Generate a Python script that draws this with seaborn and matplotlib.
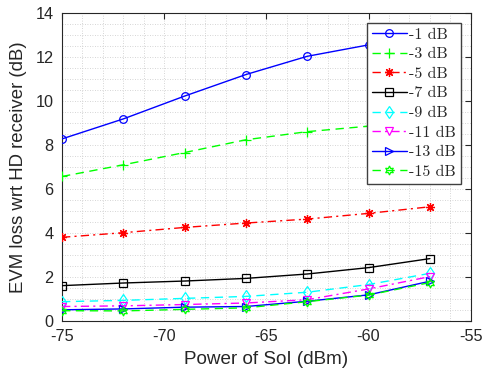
import numpy as np
import pandas as pd
import matplotlib
matplotlib.use("Agg")
import matplotlib.pyplot as plt
from matplotlib.ticker import MultipleLocator
import seaborn as sns

# Power of the signal of interest (dBm)
power_dbm = [-75, -72, -69, -66, -63, -60, -57]

# EVM loss w.r.t. HD receiver (dB), one series per interference level
evm_m1 = [8.27, 9.18, 10.22, 11.2, 12.03, 12.55, 12.95]
evm_m3 = [6.56, 7.09, 7.65, 8.23, 8.6, 8.85, 9.0]
evm_m5 = [3.79, 4.0, 4.24, 4.44, 4.62, 4.88, 5.18]
evm_m7 = [1.59, 1.71, 1.8, 1.92, 2.12, 2.41, 2.82]
evm_m9 = [0.86, 0.92, 1.01, 1.1, 1.29, 1.64, 2.15]
evm_m11 = [0.64, 0.67, 0.73, 0.8, 0.95, 1.44, 2.0]
evm_m13 = [0.49, 0.53, 0.61, 0.64, 0.88, 1.17, 1.79]
evm_m15 = [0.45, 0.44, 0.51, 0.58, 0.86, 1.16, 1.73]

labels = ["-1 dB", "-3 dB", "-5 dB", "-7 dB", "-9 dB", "-11 dB", "-13 dB", "-15 dB"]
series = [evm_m1, evm_m3, evm_m5, evm_m7, evm_m9, evm_m11, evm_m13, evm_m15]

colors = [(0, 0, 1), (0, 1, 0), (1, 0, 0), (0, 0, 0),
          (0, 1, 1), (1, 0, 1), (0, 0, 1), (0, 1, 0)]
# circle, plus, asterisk, square, diamond, down-triangle, right-triangle, hexagram
markers = ["o", "+", (8, 2, 0), "s", "d", "v", ">", (6, 1, 0)]
marker_sizes = [5.5, 6.5, 6.5, 5.5, 6, 6, 6, 6.5]
linestyles = ["-", (0, (6, 4)), (0, (6, 3, 1.5, 3)), "-",
              (0, (6, 4)), (0, (6, 3, 1.5, 3)), "-", (0, (6, 4))]

df = pd.DataFrame({
    "power": np.tile(power_dbm, len(series)),
    "evm": np.concatenate(series),
    "level": np.repeat(labels, len(power_dbm)),
})

sns.set_style("white")
plt.rcParams["font.family"] = ["Liberation Sans", "DejaVu Sans"]
plt.rcParams["axes.unicode_minus"] = False

fig = plt.figure(figsize=(4.86, 3.83), dpi=100)
ax = fig.add_axes([0.1276, 0.1630, 0.8410, 0.8030])

for lab, col, mk, ms, ls in zip(labels, colors, markers, marker_sizes, linestyles):
    sub = df[df["level"] == lab]
    sns.lineplot(
        data=sub, x="power", y="evm", ax=ax,
        color=col, linestyle=ls, linewidth=1.0,
        marker=mk, markersize=ms,
        markerfacecolor="none", markeredgecolor=col, markeredgewidth=0.9,
        label=lab, zorder=3,
    )

ax.set_xlim(-75, -55)
ax.set_ylim(0, 14)
ax.xaxis.set_major_locator(MultipleLocator(5))
ax.yaxis.set_major_locator(MultipleLocator(2))
ax.xaxis.set_minor_locator(MultipleLocator(1))
ax.yaxis.set_minor_locator(MultipleLocator(0.5))

ax.grid(True, which="both", color="#c8c8c8", linestyle=(0, (1, 2)), linewidth=0.6)
ax.tick_params(which="major", direction="in", length=4, width=0.8,
               top=True, right=True, labelsize=11.7, colors="#262626",
               pad=6)
ax.tick_params(which="minor", length=0)
for sp in ax.spines.values():
    sp.set_color("#262626")
    sp.set_linewidth(0.8)

ax.set_xlabel("Power of SoI (dBm)", fontsize=13.6, color="#262626", labelpad=5)
ax.set_ylabel("EVM loss wrt HD receiver (dB)", fontsize=13.4, color="#262626", labelpad=6)

leg = ax.legend(loc="upper right", bbox_to_anchor=(0.983, 0.979),
                prop={"family": "cmr10", "size": 11.5},
                frameon=True, fancybox=False, framealpha=1,
                edgecolor="#404040", handlelength=2.2, handletextpad=0.15,
                labelspacing=0.34, borderpad=0.3, borderaxespad=0.2)
leg.get_frame().set_linewidth(1.0)
leg.set_zorder(10)

fig.savefig("out.png", dpi=100)
